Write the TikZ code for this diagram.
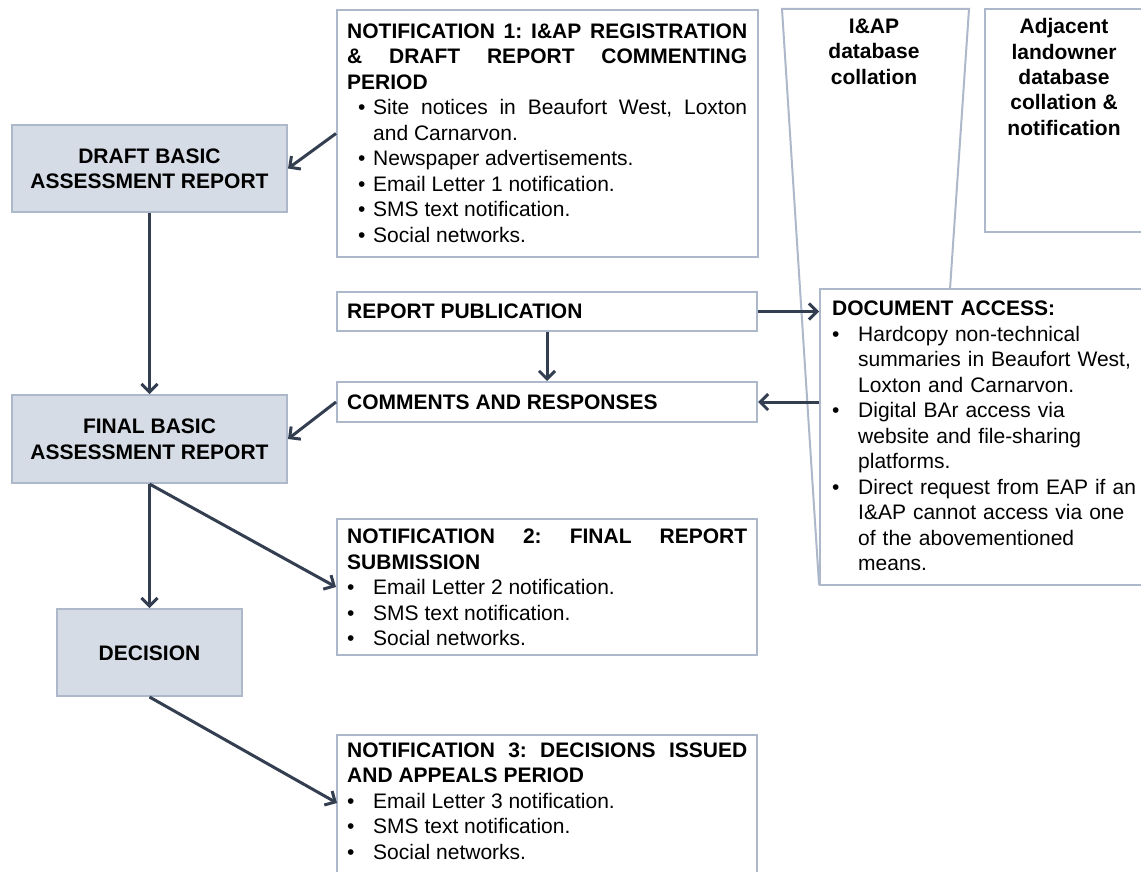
\documentclass[tikz,border=0pt]{standalone}
\usepackage{fontspec}
\setmainfont{Liberation Sans}
\usetikzlibrary{arrows.meta}
\definecolor{boxborder}{HTML}{ADB9CA}
\definecolor{boxfill}{HTML}{D6DCE5}
\definecolor{arrowcol}{HTML}{333F50}
\newcommand{\bitem}[2]{\par\noindent\hangindent=26pt\hangafter=1\makebox[26pt][l]{\hspace{#1}\textbullet}#2}
\newcommand{\fst}{\rule{0pt}{16pt}}
\frenchspacing
\begin{document}
\begin{tikzpicture}[x=1pt,y=-1pt,
  gbox/.style={draw=boxborder,fill=boxfill,line width=2pt,inner sep=0pt,rectangle},
  wbox/.style={draw=boxborder,fill=white,line width=2pt,inner sep=0pt,rectangle},
  txt/.style={inner sep=0pt,font=\fontsize{21}{25.5}\selectfont\frenchspacing},
  btxt/.style={txt,font=\fontsize{21}{25.5}\selectfont\bfseries,align=center,anchor=north},
  jtxt/.style={txt,anchor=north west,align=justify},
  conn/.style={draw=arrowcol,line width=3pt,-{Straight Barb[length=8pt,width=16pt]}}
]
\useasboundingbox (0,0) rectangle (1141,872);
\clip (0,0) rectangle (1141,872);
\fill[white] (0,0) rectangle (1141,872);

% trapezoid (I&AP database collation)
\draw[boxborder,line width=2pt,fill=white] (782,9) -- (969,9) -- (930,584) -- (819,584) -- cycle;
\node[btxt] (iaptxt) at (874,17.3) {\fst I\&AP\\database\\collation};

% adjacent landowner box
\node[wbox,minimum width=165pt,minimum height=223pt] (adj) at (1067.5,120.5) {};
\node[btxt] (adjtxt) at (1064,17.3) {\fst Adjacent\\landowner\\database\\collation \&\\notification};

% document access box
\node[wbox,minimum width=330pt,minimum height=296pt] (doc) at (985,437) {};
\node[txt,anchor=north west,align=left,text width=320pt] (doctxt) at (832,299.7) {\fst\textbf{DOCUMENT ACCESS:}%
\bitem{0pt}{Hardcopy non-technical\newline summaries in Beaufort West,\newline Loxton and Carnarvon.}%
\bitem{0pt}{Digital BAr access via\newline website and file-sharing\newline platforms.}%
\bitem{0pt}{Direct request from EAP if an\newline I\&AP cannot access via one\newline of the abovementioned\newline means.}\par};

% left column
\node[gbox,minimum width=275pt,minimum height=87pt] (draft) at (149.5,168.5) {};
\node[btxt] (drafttxt) at (149.5,147.3) {\fst DRAFT BASIC\\ASSESSMENT REPORT};

\node[gbox,minimum width=275pt,minimum height=88pt] (final) at (149.5,439) {};
\node[btxt] (finaltxt) at (149.5,417.3) {\fst FINAL BASIC\\ASSESSMENT REPORT};

\node[gbox,minimum width=185pt,minimum height=87pt] (dec) at (149.5,652.5) {};
\node[btxt] (dectxt) at (149.5,644) {\fst DECISION};

% notification 1
\node[wbox,minimum width=421pt,minimum height=247pt] (n1) at (547.5,133.5) {};
\node[jtxt,text width=400pt] (n1txt) at (347,22) {\fst\textbf{NOTIFICATION 1: I\&AP REGISTRATION\linebreak \& DRAFT REPORT COMMENTING\linebreak PERIOD}%
\bitem{11pt}{Site notices in Beaufort West, Loxton\linebreak and Carnarvon.}%
\bitem{11pt}{Newspaper advertisements.}%
\bitem{11pt}{Email Letter 1 notification.}%
\bitem{11pt}{SMS text notification.}%
\bitem{11pt}{Social networks.}\par};

% report publication / comments
\node[wbox,minimum width=420pt,minimum height=39pt] (pub) at (547,311.5) {};
\node[txt,anchor=north west] (pubtxt) at (347,302.3) {\fst\textbf{REPORT PUBLICATION}};
\node[wbox,minimum width=420pt,minimum height=40pt] (com) at (547,402) {};
\node[txt,anchor=north west] (comtxt) at (347,393) {\fst\textbf{COMMENTS AND RESPONSES}};

% notification 2
\node[wbox,minimum width=420pt,minimum height=136pt] (n2) at (547,587) {};
\node[jtxt,text width=400pt] (n2txt) at (347,527.3) {\fst\textbf{NOTIFICATION 2: FINAL REPORT\linebreak SUBMISSION}%
\bitem{0pt}{Email Letter 2 notification.}%
\bitem{0pt}{SMS text notification.}%
\bitem{0pt}{Social networks.}\par};

% notification 3
\node[wbox,minimum width=420pt,minimum height=170pt] (n3) at (547,820) {};
\coordinate (n3in) at (337,803);
\node[jtxt,text width=400pt] (n3txt) at (347,741) {\fst\textbf{NOTIFICATION 3: DECISIONS ISSUED\linebreak AND APPEALS PERIOD}%
\bitem{0pt}{Email Letter 3 notification.}%
\bitem{0pt}{SMS text notification.}%
\bitem{0pt}{Social networks.}\par};

% connectors
\draw[conn] (n1.west) -- (draft.east);
\draw[conn] (draft.south) -- (final.north);
\draw[conn] (pub.south) -- (com.north);
\draw[conn] (pub.east) -- (doc.west |- pub.east);
\draw[conn] (doc.west |- com.east) -- (com.east);
\draw[conn] (com.west) -- (final.east);
\draw[conn] (final.south) -- (dec.north);
\draw[conn] (final.south) -- (n2.west);
\draw[conn] (dec.south) -- (n3in);
\end{tikzpicture}
\end{document}
